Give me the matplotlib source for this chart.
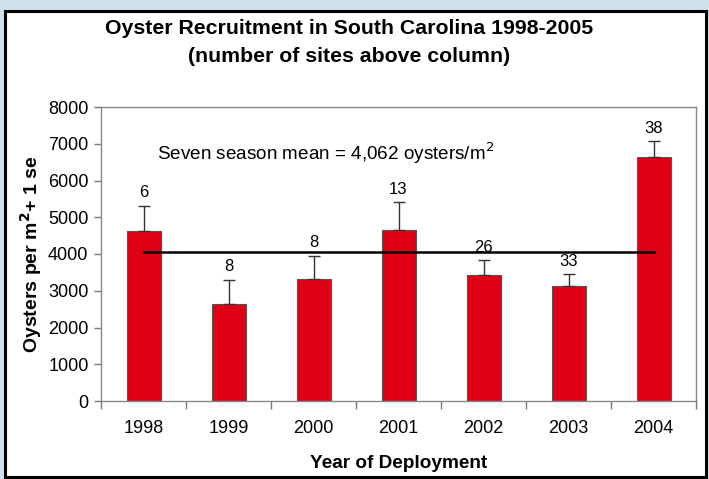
import matplotlib
matplotlib.use("Agg")
import matplotlib.pyplot as plt
from matplotlib.patches import Rectangle
import numpy as np

plt.rcParams['font.family'] = ['Liberation Sans', 'DejaVu Sans']

years = ['1998', '1999', '2000', '2001', '2002', '2003', '2004']
means = [4636, 2627, 3318, 4645, 3418, 3136, 6645]
se = [682, 673, 637, 764, 418, 319, 419]
sites = [6, 8, 8, 13, 26, 33, 38]
overall_mean = 4062

fig = plt.figure(figsize=(7.09, 4.79), dpi=100)
fig.patch.set_facecolor('#cfe0ea')
# white panel with black border
panel = Rectangle((5/709, 1 - 477/479), 701/709, (477 - 11)/479, transform=fig.transFigure,
                  facecolor='white', edgecolor='black', linewidth=2.2, zorder=-5)
fig.patches.append(panel)

ax = fig.add_axes([101/709, 1 - 401/479, 595/709, 294/479])
ax.set_zorder(2)
ax.set_facecolor('white')
x = np.arange(len(years))
ax.bar(x, means, width=0.4, color='#e00016', edgecolor='#555555', linewidth=0.8, zorder=2)
ax.errorbar(x, means, yerr=[np.zeros(len(se)), se], fmt='none', ecolor='#333333',
            elinewidth=1.0, capsize=4, capthick=1.0, zorder=3)
for xi, m, s, n in zip(x, means, se, sites):
    ax.text(xi, m + s + 150, str(n), ha='center', va='bottom', fontsize=12)

ax.plot([x[0], x[-1]], [overall_mean, overall_mean], color='black', lw=1.8, zorder=4)
ax.text(0.16, 6740, 'Seven season mean = 4,062 oysters/m$^2$', fontsize=13.6,
        ha='left', va='center')

ax.set_xlim(-0.5, len(years) - 0.5)
ax.set_ylim(0, 8000)
ax.set_yticks(range(0, 8001, 1000))
ax.set_xticks(x)
ax.set_xticklabels(years, fontsize=13)
ax.set_xticks(np.arange(-0.5, len(years), 1.0), minor=True)
ax.tick_params(axis='x', which='major', length=0, pad=14)
ax.tick_params(axis='x', which='minor', length=6, color='#777777', width=1)
ax.tick_params(axis='y', labelsize=13, length=5, color='#777777', width=1, pad=4)
for sp in ax.spines.values():
    sp.set_color('#888888')
    sp.set_linewidth(1.0)

ax.set_xlabel('Year of Deployment', fontsize=13.7, fontweight='bold', labelpad=13)
ax.set_ylabel('Oysters per m$^\\mathbf{2}$+ 1 se', fontsize=14, fontweight='bold', labelpad=3)

fig.text(349/709, 1 - 28/479, 'Oyster Recruitment in South Carolina 1998-2005',
         ha='center', va='center', fontsize=15.3, fontweight='bold')
fig.text(349/709, 1 - 56/479, '(number of sites above column)',
         ha='center', va='center', fontsize=15.3, fontweight='bold')

fig.savefig('out.png', dpi=100, facecolor=fig.get_facecolor())
